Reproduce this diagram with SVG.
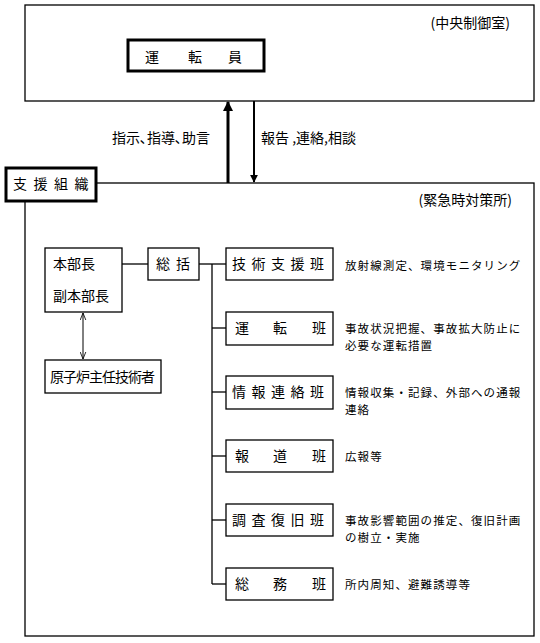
<svg xmlns="http://www.w3.org/2000/svg" width="540" height="643" viewBox="0 0 540 643">
<style>
text{font-family:"Noto Sans CJK JP","Noto Sans CJK SC",sans-serif;fill:#000}
.box{fill:#fff;stroke:#000;stroke-width:1.3}
.thick{fill:#fff;stroke:#000;stroke-width:3}
.ln{fill:none;stroke:#000;stroke-width:1.3}
.t14{font-size:14px}
.t12{font-size:11.5px;letter-spacing:1.1px}
</style>
<defs>
<marker id="ah" viewBox="0 0 10 10" refX="9" refY="5" markerWidth="3.5" markerHeight="3.5" orient="auto-start-reverse" markerUnits="strokeWidth">
<path d="M0,0 L10,5 L0,10 z" fill="#000"/>
</marker>
<marker id="ah2" viewBox="0 0 10 10" refX="9" refY="5" markerWidth="4" markerHeight="4" orient="auto-start-reverse" markerUnits="strokeWidth">
<path d="M0,0 L10,5 L0,10 z" fill="#000"/>
</marker>
<marker id="open" viewBox="0 0 10 10" refX="10" refY="5" markerWidth="7" markerHeight="7" orient="auto-start-reverse" markerUnits="userSpaceOnUse">
<path d="M0,1 L10,5 L0,9" fill="none" stroke="#000" stroke-width="1.2"/>
</marker>
</defs>

<g id="control-room">
<rect class="box" x="25" y="5" width="509" height="96"/>
<text class="t14" x="510" y="28" text-anchor="end">(中央制御室)</text>
</g>

<g id="emergency-center">
<rect class="box" x="25" y="183" width="509" height="453"/>
<text class="t14" x="512" y="205" text-anchor="end">(緊急時対策所)</text>
</g>

<g id="operator">
<rect class="thick" x="128" y="40" width="136" height="31"/>
<text class="t14" x="145" y="62">運</text>
<text class="t14" x="188" y="62">転</text>
<text class="t14" x="228" y="62">員</text>
</g>

<g id="support-org">
<rect class="thick" x="6" y="168" width="90" height="33"/>
<text class="t14" x="13" y="189" letter-spacing="6.5">支援組織</text>
</g>

<g id="connectors">
<line x1="228" y1="183" x2="228" y2="102" stroke="#000" stroke-width="3" marker-end="url(#ah)"/>
<line x1="254" y1="101" x2="254" y2="182" stroke="#000" stroke-width="2" marker-end="url(#ah2)"/>
<line class="ln" x1="122" y1="264" x2="148" y2="264"/>
<line class="ln" x1="199" y1="264" x2="226" y2="264"/>
<line class="ln" x1="212" y1="264" x2="212" y2="584"/>
<line class="ln" x1="212" y1="328" x2="226" y2="328"/>
<line class="ln" x1="212" y1="392" x2="226" y2="392"/>
<line class="ln" x1="212" y1="456" x2="226" y2="456"/>
<line class="ln" x1="212" y1="520" x2="226" y2="520"/>
<line class="ln" x1="212" y1="584" x2="226" y2="584"/>
<line x1="83" y1="313" x2="83" y2="359" stroke="#000" stroke-width="1" marker-start="url(#open)" marker-end="url(#open)"/>
<text class="t14" x="112" y="143">指示､指導､助言</text>
<text class="t14" x="261" y="143">報告 ,連絡,相談</text>
</g>

<g id="hq">
<rect class="box" x="45" y="248" width="77" height="64"/>
<text class="t14" x="53" y="269">本部長</text>
<text class="t14" x="53" y="301">副本部長</text>
</g>

<g id="general">
<rect class="box" x="148" y="248" width="51" height="32"/>
<text class="t14" x="156" y="269" letter-spacing="6">総括</text>
</g>

<g id="chief-engineer">
<rect class="box" x="45" y="360" width="116" height="33"/>
<text class="t14" x="50" y="382" textLength="105">原子炉主任技術者</text>
</g>

<g id="tech-support">
<rect class="box" x="226" y="248" width="107" height="32"/>
<text class="t14" x="232" y="269" letter-spacing="5.5">技術支援班</text>
<text class="t12" x="345" y="270">放射線測定、環境モニタリング</text>
</g>

<g id="operation">
<rect class="box" x="226" y="312" width="107" height="33"/>
<text class="t14" x="235" y="333">運</text>
<text class="t14" x="273" y="333">転</text>
<text class="t14" x="312" y="333">班</text>
<text class="t12" x="345" y="333">事故状況把握、事故拡大防止に</text>
<text class="t12" x="345" y="350">必要な運転措置</text>
</g>

<g id="info-liaison">
<rect class="box" x="226" y="376" width="107" height="33"/>
<text class="t14" x="232" y="397" letter-spacing="5.5">情報連絡班</text>
<text class="t12" x="345" y="397">情報収集・記録、外部への通報</text>
<text class="t12" x="345" y="414">連絡</text>
</g>

<g id="press">
<rect class="box" x="226" y="440" width="107" height="32"/>
<text class="t14" x="235" y="461">報</text>
<text class="t14" x="273" y="461">道</text>
<text class="t14" x="312" y="461">班</text>
<text class="t12" x="345" y="461">広報等</text>
</g>

<g id="investigation">
<rect class="box" x="226" y="504" width="107" height="32"/>
<text class="t14" x="232" y="525" letter-spacing="5.5">調査復旧班</text>
<text class="t12" x="345" y="525">事故影響範囲の推定、復旧計画</text>
<text class="t12" x="345" y="542">の樹立・実施</text>
</g>

<g id="general-affairs">
<rect class="box" x="226" y="568" width="107" height="32"/>
<text class="t14" x="235" y="589">総</text>
<text class="t14" x="273" y="589">務</text>
<text class="t14" x="312" y="589">班</text>
<text class="t12" x="345" y="589">所内周知、避難誘導等</text>
</g>
</svg>
